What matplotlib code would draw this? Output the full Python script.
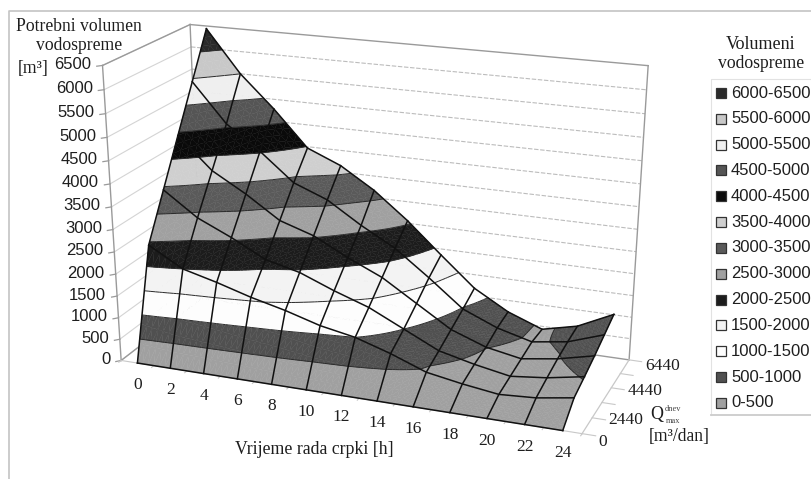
import numpy as np
import matplotlib
matplotlib.use("Agg")
import matplotlib.pyplot as plt
from matplotlib.collections import PolyCollection, LineCollection

# ---------------------------------------------------------------------------
# Data
# ---------------------------------------------------------------------------
hours = [0, 2, 4, 6, 8, 10, 12, 14, 16, 18, 20, 22, 24]
q_rows = [0, 2440, 3440, 4440, 5440, 6440]
q_labels = ["0", "2440", "4440", "6440"]
q_label_rows = [0, 1, 3, 5]

vol_q0 = [0, 0, 0, 0, 0, 0, 0, 0, 0, 0, 0, 0, 0]
vol_q2440 = [2440, 2000, 1800, 1570, 1380, 1150, 1000, 750, 450, 310, 200, 250, 380]
vol_q3440 = [3440, 2900, 2550, 2150, 1960, 1650, 1380, 1000, 620, 430, 280, 370, 520]
vol_q4440 = [4440, 3730, 3290, 2780, 2530, 2130, 1780, 1290, 800, 510, 360, 480, 670]
vol_q5440 = [5440, 4570, 4030, 3400, 3100, 2610, 2180, 1600, 980, 650, 440, 560, 840]
vol_q6440 = [6440, 5500, 4780, 3970, 3650, 3170, 2560, 1860, 1180, 730, 430, 620, 1010]

z_ticks = list(range(0, 7000, 500))
band_labels = ["0-500", "500-1000", "1000-1500", "1500-2000", "2000-2500", "2500-3000",
               "3000-3500", "3500-4000", "4000-4500", "4500-5000", "5000-5500",
               "5500-6000", "6000-6500"]
band_colors = ["#a0a0a0", "#505050", "#fdfdfd", "#f3f3f3", "#1c1c1c", "#a0a0a0",
               "#5a5a5a", "#cfcfcf", "#0a0a0a", "#555555", "#efefef",
               "#c8c8c8", "#2a2a2a"]

SERIF = "Liberation Serif"
SANS = "Liberation Sans"
WALL = "#9a9a9a"
INK = "#1e1e1e"

# ---------------------------------------------------------------------------
# Perspective of the box, fitted to its corners on the picture
# ---------------------------------------------------------------------------
world = np.array([(0, 0, 0), (0, 0, 6500), (0, 5, 6500), (0, 5, 0),
                  (13, 5, 0), (13, 5, 6500), (13, 0, 0)], float)
pixel = np.array([(121.7, 359), (102, 65.7), (190.7, 24), (201, 300),
                  (629.3, 358.3), (648, 66), (582, 435)], float)
rows = []
rhs = []
for (wx, wy, wz), (px, py) in zip(world, pixel):
    wz = wz / 6500
    rows.append([wx, wy, wz, 1, 0, 0, 0, 0, -px * wx, -px * wy, -px * wz])
    rows.append([0, 0, 0, 0, wx, wy, wz, 1, -py * wx, -py * wy, -py * wz])
    rhs += [px, py]
cam = np.linalg.lstsq(np.array(rows), np.array(rhs), rcond=None)[0]
cam = np.append(cam, 1).reshape(3, 4)


def project(x, y, z):
    h = cam @ np.array([x, y, z / 6500, 1.0])
    return h[0] / h[2], h[1] / h[2]


def clip_band(poly, lo, hi):
    """Clip a polygon of (x, y, v) corners to lo <= v <= hi."""
    for level, sign in ((lo, 1), (hi, -1)):
        out = []
        for k in range(len(poly)):
            a, b = poly[k], poly[(k + 1) % len(poly)]
            da, db = sign * (a[2] - level), sign * (b[2] - level)
            if da >= 0:
                out.append(a)
            if da * db < 0:
                s = da / (da - db)
                out.append(tuple(a[n] + s * (b[n] - a[n]) for n in range(3)))
        poly = out
        if not poly:
            break
    return poly


def level_segment(tri, level):
    # small nudge so a corner sitting exactly on the level does not drop the segment
    level = level + 1e-3
    pts = []
    for k in range(3):
        a, b = tri[k], tri[(k + 1) % 3]
        if (a[2] - level) * (b[2] - level) < 0:
            s = (level - a[2]) / (b[2] - a[2])
            pts.append((a[0] + s * (b[0] - a[0]), a[1] + s * (b[1] - a[1]), level))
    return pts if len(pts) == 2 else None


fig = plt.figure(figsize=(8.12, 4.79), dpi=100)
ax = fig.add_axes([0, 0, 1, 1])
ax.set_xlim(0, 812)
ax.set_ylim(479, 0)
ax.axis("off")

# ---------------------------------------------------------------------------
# Outer frame and walls
# ---------------------------------------------------------------------------
ax.plot([9.5, 9.5, 812], [479, 10.5, 10.5], color="#c4c4c4", lw=1.2)
ax.plot([812, 710.7, 710.7], [79, 79, 415], color="#e2e2e2", lw=0.8)
ax.plot([710.7, 812], [415, 415], color="#cccccc", lw=1.3)

for z in z_ticks:
    p0, p1, p2 = project(0, 0, z), project(0, 5, z), project(13, 5, z)
    ax.plot([p0[0], p1[0]], [p0[1], p1[1]], color="#d4d4d4", lw=0.8)
    if 0 < z < 6500:
        ax.plot([p1[0], p2[0]], [p1[1], p2[1]], color="#bcbcbc", lw=0.8, ls=(0, (4, 1.5)))
    t = project(-0.1, -0.12, z)
    ax.plot([t[0], p0[0]], [t[1], p0[1]], color=WALL, lw=0.9)
    ax.text(p0[0] - 11, p0[1] - 1, str(z), ha="right", va="center", fontsize=12,
            family=SANS, color=INK)

corners = [((0, 0, 0), (0, 0, 6500)), ((0, 0, 6500), (0, 5, 6500)), ((0, 5, 6500), (0, 5, 0)),
           ((0, 5, 6500), (13, 5, 6500)), ((13, 5, 6500), (13, 5, 0)), ((0, 5, 0), (13, 5, 0)),
           ((0, 0, 0), (0, 5, 0))]
for a, b in corners:
    pa, pb = project(*a), project(*b)
    ax.plot([pa[0], pb[0]], [pa[1], pb[1]], color=WALL, lw=1.0)

pa, pb = project(0, 0, 0), project(13, 0, 0)
ax.plot([pa[0], pb[0]], [pa[1], pb[1]], color="#c8c8c8", lw=0.8)
pa, pb = project(13, 0, 0), project(13, 5, 0)
ax.plot([pa[0], pb[0]], [pa[1], pb[1]], color="#c8c8c8", lw=0.9)
for i in range(14):
    pa, pb = project(i, 0, 0), project(i, -0.13, 0)
    ax.plot([pa[0], pb[0]], [pa[1], pb[1]], color="#c8c8c8", lw=0.8)
for j in range(6):
    pa, pb = project(13, j, 0), project(13.35, j, 0)
    ax.plot([pa[0], pb[0]], [pa[1], pb[1]], color="#c8c8c8", lw=0.8)

# ---------------------------------------------------------------------------
# Surface: bands painted back to front, then the mesh on top
# ---------------------------------------------------------------------------
vol = np.array([vol_q0, vol_q2440, vol_q3440, vol_q4440, vol_q5440, vol_q6440], float)
levels = z_ticks
SUB = 6

polys, colors, segs = [], [], []
for j in range(len(q_rows) - 2, -1, -1):
    for i in range(len(hours) - 1):
        c00, c10, c01, c11 = vol[j, i], vol[j, i + 1], vol[j + 1, i], vol[j + 1, i + 1]
        for b in range(SUB - 1, -1, -1):
            for a in range(SUB):
                cell = []
                for u, w in ((a, b), (a + 1, b), (a + 1, b + 1), (a, b + 1)):
                    fu, fw = u / SUB, w / SUB
                    v = (c00 * (1 - fu) * (1 - fw) + c10 * fu * (1 - fw)
                         + c01 * (1 - fu) * fw + c11 * fu * fw)
                    cell.append((i + 0.5 + fu, j + fw, v))
                for tri in ((cell[0], cell[1], cell[2]), (cell[0], cell[2], cell[3])):
                    vmin, vmax = min(p[2] for p in tri), max(p[2] for p in tri)
                    for n, color in enumerate(band_colors):
                        lo, hi = levels[n], levels[n + 1]
                        if vmax < lo or vmin > hi:
                            continue
                        clipped = clip_band(list(tri), lo, hi)
                        if len(clipped) >= 3:
                            polys.append([project(*p) for p in clipped])
                            colors.append(color)
                    for level in levels[1:-1]:
                        seg = level_segment(tri, level)
                        if seg:
                            segs.append([project(*p) for p in seg])

ax.add_collection(PolyCollection(polys, facecolors=colors, edgecolors="face", linewidths=0.3, zorder=3))
ax.add_collection(LineCollection(segs, colors="#2a2a2a", linewidths=0.7, zorder=4))

for j in range(len(q_rows)):
    line = [project(i + 0.5, j, vol[j, i]) for i in range(len(hours))]
    ax.plot(*zip(*line), color="#111111", lw=1.1, zorder=5)
for i in range(len(hours)):
    line = [project(i + 0.5, j, vol[j, i]) for j in range(len(q_rows))]
    ax.plot(*zip(*line), color="#111111", lw=1.1, zorder=5)

# ---------------------------------------------------------------------------
# Axis labels
# ---------------------------------------------------------------------------
for i, h in enumerate(hours):
    px, py = project(i + 0.5, 0, 0)
    ax.text(px, py + 22, str(h), ha="center", va="center", fontsize=12.5, family=SERIF, color=INK)
q_offsets = [8, 2, 3, 6]
for label, j, off in zip(q_labels, q_label_rows, q_offsets):
    px, py = project(13, j, 0)
    ax.text(px + 16, py + off, label, ha="left", va="center", fontsize=12.5, family=SERIF, color=INK)

ax.text(79, 26, "Potrebni volumen", ha="center", va="center", fontsize=12.7, family=SERIF, color=INK)
ax.text(79, 45, "vodospreme", ha="center", va="center", fontsize=12.7, family=SERIF, color=INK)
ax.text(33, 68, "[m³]", ha="center", va="center", fontsize=12.7, family=SERIF, color=INK)
ax.text(314, 450, "Vrijeme rada crpki [h]", ha="center", va="center", fontsize=12.8, family=SERIF, color=INK)
ax.text(657, 415, "Q", ha="center", va="center", fontsize=13, family=SERIF, color=INK)
ax.text(673, 409, "dnev", ha="center", va="center", fontsize=6, family=SERIF, color="#444444")
ax.text(673, 421, "max", ha="center", va="center", fontsize=6, family=SERIF, color="#444444")
ax.text(679, 437, "[m³/dan]", ha="center", va="center", fontsize=12.7, family=SERIF, color=INK)

# ---------------------------------------------------------------------------
# Legend (drawn by hand, it runs off the right edge like the original)
# ---------------------------------------------------------------------------
ax.text(761, 44, "Volumeni", ha="center", va="center", fontsize=13, family=SERIF, color=INK)
ax.text(761, 63, "vodospreme", ha="center", va="center", fontsize=12.7, family=SERIF, color=INK)
for n, (label, color) in enumerate(zip(band_labels[::-1], band_colors[::-1])):
    y = 93 + n * 25.83
    ax.plot([721], [y], marker="s", ms=7.2, mfc=color, mec="#333333", mew=0.9)
    ax.text(731, y, label, ha="left", va="center", fontsize=12, family=SANS, color=INK, clip_on=True)

fig.savefig("out.png", dpi=100)
